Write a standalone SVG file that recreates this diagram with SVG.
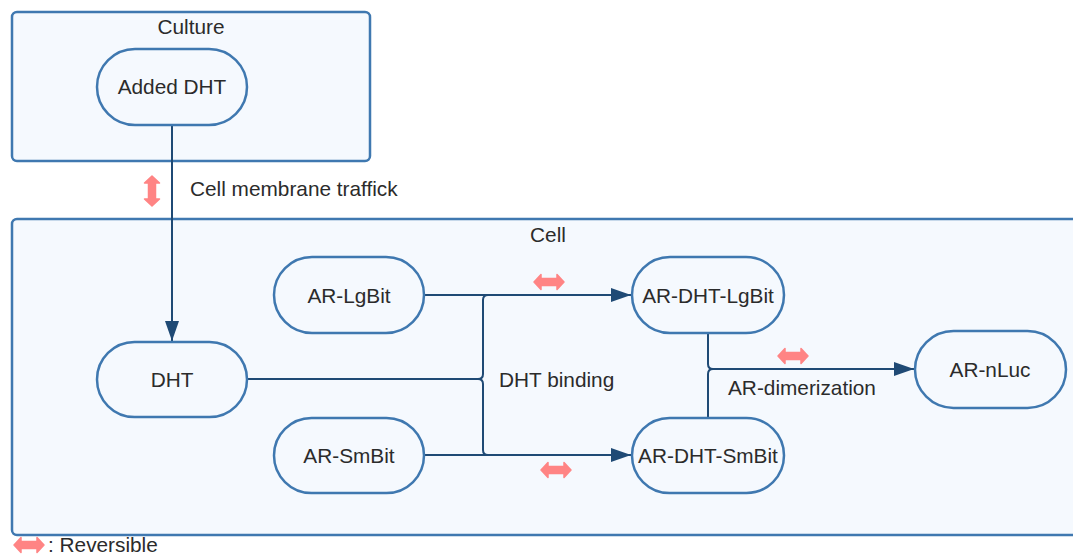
<svg xmlns="http://www.w3.org/2000/svg" width="1073" height="555" viewBox="0 0 1073 555">
<style>
.box{fill:#f5f9fe;stroke:#3f78b0;stroke-width:2.5}
.node{fill:#f5f9fe;stroke:#3f78b0;stroke-width:2.5}
.t{font-family:"Liberation Sans",Arial,sans-serif;font-size:20.8px;fill:#2b2b2b;text-anchor:middle;dominant-baseline:central}
.tl{font-family:"Liberation Sans",Arial,sans-serif;font-size:20.8px;fill:#2b2b2b;dominant-baseline:central}
.c{fill:none;stroke:#1f4a75;stroke-width:2}
.rev{fill:#ff8484;stroke:#ff8484;stroke-width:1.5;stroke-linejoin:round}
</style>
<defs>
<marker id="ah2" viewBox="0 0 20 14" refX="20" refY="7" markerWidth="20" markerHeight="14" markerUnits="userSpaceOnUse" orient="auto">
<path d="M0,0 L20,7 L0,14 Z" fill="#1f4a75"/>
</marker>
<path id="rv" class="rev" d="M-15,0 L-8,-7.5 L-8,-3.5 L8,-3.5 L8,-7.5 L15,0 L8,7.5 L8,3.5 L-8,3.5 L-8,7.5 Z"/>
</defs>

<g id="culture">
<rect class="box" x="12" y="12" width="358" height="149" rx="5"/>
<text class="t" x="191" y="26">Culture</text>
</g>
<g id="cell">
<rect class="box" x="12" y="219" width="1080" height="316" rx="5"/>
<text class="t" x="548" y="234">Cell</text>
</g>

<g id="connectors">
<path class="c" d="M172,125 V341" marker-end="url(#ah2)"/>
<path class="c" d="M424,295 H631" marker-end="url(#ah2)"/>
<path class="c" d="M424,455 H631" marker-end="url(#ah2)"/>
<path class="c" d="M247,379 H478 Q483,379 483,374 V300 Q483,295 488,295"/>
<path class="c" d="M478,379 Q483,379 483,384 V450 Q483,455 488,455"/>
<path class="c" d="M708,333 V364 Q708,369 713,369 H914" marker-end="url(#ah2)"/>
<path class="c" d="M708,418 V374 Q708,369 713,369"/>
</g>

<g id="added-dht">
<rect class="node" x="97" y="49" width="150" height="76" rx="38"/>
<text class="t" x="172" y="86">Added DHT</text>
</g>
<g id="dht">
<rect class="node" x="97" y="342" width="150" height="75" rx="37.5"/>
<text class="t" x="172" y="379">DHT</text>
</g>
<g id="ar-lgbit">
<rect class="node" x="274" y="257" width="150" height="76" rx="38"/>
<text class="t" x="349" y="295">AR-LgBit</text>
</g>
<g id="ar-smbit">
<rect class="node" x="274" y="418" width="150" height="75" rx="37.5"/>
<text class="t" x="349" y="455">AR-SmBit</text>
</g>
<g id="ar-dht-lgbit">
<rect class="node" x="632" y="257" width="152" height="76" rx="38"/>
<text class="t" x="708" y="295">AR-DHT-LgBit</text>
</g>
<g id="ar-dht-smbit">
<rect class="node" x="632" y="418" width="152" height="75" rx="37.5"/>
<text class="t" x="708" y="455">AR-DHT-SmBit</text>
</g>
<g id="ar-nluc">
<rect class="node" x="915" y="331" width="151" height="77" rx="38.5"/>
<text class="t" x="990" y="369">AR-nLuc</text>
</g>

<g id="labels">
<text class="tl" x="190" y="188">Cell membrane traffick</text>
<text class="tl" x="499" y="379">DHT binding</text>
<text class="tl" x="728" y="387">AR-dimerization</text>
<text class="tl" x="48" y="544">: Reversible</text>
</g>

<g id="reversible-icons">
<use href="#rv" transform="translate(152,191) rotate(90)"/>
<use href="#rv" transform="translate(549,282)"/>
<use href="#rv" transform="translate(556,470)"/>
<use href="#rv" transform="translate(793,356)"/>
<use href="#rv" transform="translate(29,545)"/>
</g>
</svg>
